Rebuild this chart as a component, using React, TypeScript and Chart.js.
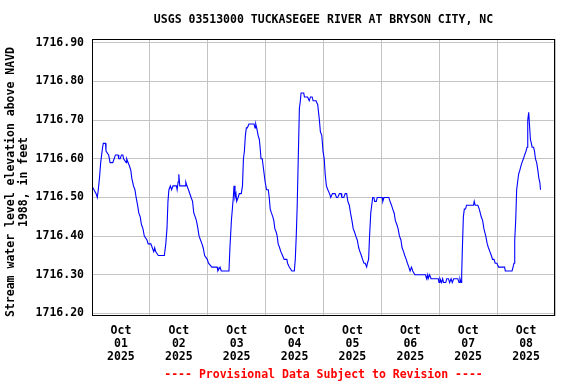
import { useEffect, useRef } from 'react';
import { Chart, registerables } from 'chart.js';

Chart.register(...registerables);

// [hours since Oct 01 2025 00:00, gage height in feet]
const readings: [number, number][] = [
  [0, 1716.53], [0.8, 1716.52], [1.7, 1716.51], [2.2, 1716.50], [2.6, 1716.52], [3.1, 1716.55],
  [3.6, 1716.59], [4.0, 1716.61], [4.4, 1716.63], [4.7, 1716.64], [5.6, 1716.64], [5.8, 1716.62],
  [6.9, 1716.61], [7.5, 1716.59], [8.6, 1716.59], [9.2, 1716.60], [9.7, 1716.61], [10.8, 1716.61],
  [11.1, 1716.60], [11.7, 1716.60], [12.2, 1716.61], [12.8, 1716.61], [13.1, 1716.60], [14.2, 1716.59],
  [14.4, 1716.60], [15.0, 1716.59], [15.6, 1716.58], [16.1, 1716.57], [16.5, 1716.55], [17.2, 1716.53],
  [17.8, 1716.52], [18.3, 1716.50], [18.9, 1716.48], [19.4, 1716.46], [20.0, 1716.45], [20.5, 1716.43],
  [21.1, 1716.42], [21.7, 1716.40], [22.8, 1716.39], [23.3, 1716.38], [24.4, 1716.38], [25.0, 1716.37],
  [25.6, 1716.36], [26.0, 1716.37], [26.4, 1716.36], [27.5, 1716.35], [30.0, 1716.35], [30.6, 1716.38],
  [31.1, 1716.42], [31.5, 1716.49], [31.9, 1716.52], [32.5, 1716.53], [33.0, 1716.52], [33.6, 1716.53],
  [35.0, 1716.53], [35.3, 1716.52], [35.7, 1716.54], [36.0, 1716.56], [36.4, 1716.53], [38.6, 1716.53],
  [38.9, 1716.54], [39.4, 1716.53], [40.0, 1716.52], [41.1, 1716.50], [41.7, 1716.49], [42.2, 1716.46],
  [42.8, 1716.45], [43.3, 1716.44], [43.9, 1716.42], [44.4, 1716.40], [45.0, 1716.39], [45.6, 1716.38],
  [46.1, 1716.37], [46.7, 1716.35], [47.8, 1716.34], [48.3, 1716.33], [49.7, 1716.32], [51.9, 1716.32],
  [52.2, 1716.31], [53.1, 1716.32], [53.6, 1716.31], [56.8, 1716.31], [57.2, 1716.37], [57.8, 1716.44],
  [58.2, 1716.47], [58.6, 1716.50], [58.9, 1716.53], [59.3, 1716.50], [59.7, 1716.51], [60.0, 1716.49],
  [60.6, 1716.50], [61.1, 1716.51], [61.9, 1716.51], [62.4, 1716.53], [62.8, 1716.60], [63.2, 1716.62],
  [63.6, 1716.66], [64.0, 1716.68], [64.4, 1716.68], [65.1, 1716.69], [67.2, 1716.69], [67.6, 1716.68],
  [67.9, 1716.69], [68.3, 1716.68], [68.9, 1716.66], [69.4, 1716.65], [69.7, 1716.63], [70.1, 1716.60],
  [70.6, 1716.60], [71.0, 1716.58], [71.4, 1716.56], [71.8, 1716.54], [72.4, 1716.52], [73.1, 1716.52],
  [73.5, 1716.50], [73.9, 1716.47], [74.4, 1716.46], [75.0, 1716.45], [75.4, 1716.44], [75.8, 1716.42],
  [76.4, 1716.41], [76.8, 1716.40], [77.2, 1716.38], [77.8, 1716.37], [78.3, 1716.36], [79.0, 1716.35],
  [79.7, 1716.34], [80.8, 1716.34], [81.1, 1716.33], [81.8, 1716.32], [82.9, 1716.31], [83.9, 1716.31],
  [84.3, 1716.34], [84.7, 1716.40], [85.1, 1716.48], [85.6, 1716.62], [86.0, 1716.73], [86.4, 1716.75],
  [86.7, 1716.77], [87.8, 1716.77], [88.1, 1716.76], [89.4, 1716.76], [90.1, 1716.75], [90.6, 1716.76],
  [91.3, 1716.76], [91.7, 1716.75], [92.9, 1716.75], [93.6, 1716.74], [94.3, 1716.70], [94.7, 1716.67],
  [95.3, 1716.66], [95.8, 1716.62], [96.3, 1716.60], [96.7, 1716.56], [97.2, 1716.53], [97.8, 1716.52],
  [98.5, 1716.51], [99.0, 1716.50], [99.7, 1716.51], [100.8, 1716.51], [101.4, 1716.50], [101.9, 1716.50],
  [102.6, 1716.51], [103.3, 1716.51], [103.6, 1716.50], [104.4, 1716.50], [105.0, 1716.51], [105.6, 1716.51],
  [106.1, 1716.49], [106.7, 1716.48], [107.2, 1716.46], [107.8, 1716.44], [108.3, 1716.42], [108.9, 1716.41],
  [109.4, 1716.40], [110.0, 1716.39], [110.6, 1716.37], [111.1, 1716.36], [111.7, 1716.35], [112.2, 1716.34],
  [112.8, 1716.33], [113.3, 1716.33], [113.9, 1716.32], [114.2, 1716.33], [114.7, 1716.34], [115.1, 1716.40],
  [115.6, 1716.46], [116.0, 1716.48], [116.4, 1716.50], [116.9, 1716.50], [117.2, 1716.49], [117.9, 1716.49],
  [118.3, 1716.50], [120.3, 1716.50], [120.6, 1716.49], [121.1, 1716.50], [123.1, 1716.50], [123.6, 1716.49],
  [124.2, 1716.48], [124.7, 1716.47], [125.3, 1716.46], [125.8, 1716.44], [126.4, 1716.43], [126.9, 1716.42],
  [127.5, 1716.40], [128.1, 1716.39], [128.6, 1716.37], [129.2, 1716.36], [129.7, 1716.35], [130.3, 1716.34],
  [130.8, 1716.33], [131.4, 1716.32], [131.9, 1716.31], [132.5, 1716.32], [133.0, 1716.31], [133.9, 1716.30],
  [138.3, 1716.30], [138.75, 1716.29], [139.2, 1716.30], [139.4, 1716.29], [140.0, 1716.30], [140.6, 1716.29],
  [143.6, 1716.29], [143.9, 1716.28], [144.3, 1716.29], [145.0, 1716.28], [145.4, 1716.29], [145.8, 1716.28],
  [146.7, 1716.28], [147.1, 1716.29], [147.8, 1716.29], [148.3, 1716.28], [148.9, 1716.29], [149.4, 1716.28],
  [150.0, 1716.29], [151.7, 1716.29], [152.2, 1716.28], [152.6, 1716.29], [153.1, 1716.28], [153.3, 1716.30],
  [153.6, 1716.37], [154.0, 1716.45], [154.4, 1716.47], [154.9, 1716.47], [155.3, 1716.48], [158.2, 1716.48],
  [158.5, 1716.49], [158.9, 1716.48], [160.0, 1716.48], [160.6, 1716.47], [161.0, 1716.46], [161.4, 1716.45],
  [162.0, 1716.44], [162.5, 1716.42], [162.9, 1716.41], [163.3, 1716.40], [163.9, 1716.38], [164.4, 1716.37],
  [165.0, 1716.36], [165.6, 1716.35], [166.1, 1716.34], [166.7, 1716.34], [167.2, 1716.33], [167.9, 1716.33],
  [168.6, 1716.32], [171.1, 1716.32], [171.4, 1716.31], [174.2, 1716.31], [174.6, 1716.32], [175.0, 1716.33],
  [175.3, 1716.39], [175.7, 1716.44], [176.1, 1716.52], [176.5, 1716.54], [176.9, 1716.56], [177.4, 1716.57],
  [177.8, 1716.58], [178.3, 1716.59], [178.9, 1716.60], [179.4, 1716.61], [180.0, 1716.62], [180.4, 1716.63],
  [180.7, 1716.70], [181.1, 1716.72], [181.4, 1716.69], [181.8, 1716.65], [182.2, 1716.64], [182.5, 1716.63],
  [183.1, 1716.63], [183.5, 1716.62], [183.9, 1716.60], [184.4, 1716.59], [184.9, 1716.57], [185.3, 1716.55],
  [185.7, 1716.54], [186.0, 1716.52],
];

const yTickValues = [1716.2, 1716.3, 1716.4, 1716.5, 1716.6, 1716.7, 1716.8, 1716.9];
const xTickHours = [0, 12, 24, 36, 48, 60, 72, 84, 96, 108, 120, 132, 144, 156, 168, 180, 192];
const dayLabels = ['01', '02', '03', '04', '05', '06', '07', '08'];
const monthLabel = 'Oct';
const yearLabel = '2025';
const titleText = 'USGS 03513000 TUCKASEGEE RIVER AT BRYSON CITY, NC';
const yTitleLines = ['Stream water level elevation above NAVD', '1988, in feet'];
const footerText = '---- Provisional Data Subject to Revision ----';

const X_MIN = 0;
const X_MAX = 192;
const Y_MIN = 1716.1935;
const Y_MAX = 1716.9098;

const FAMILY = '"DejaVu Sans Mono", "Liberation Mono", monospace';
const FONT_SIZE = 11.5;
const FONT = `bold ${FONT_SIZE}px ${FAMILY}`;
const GRID = '#c4c4c4';

const decorPlugin = {
  id: 'decor',
  afterDraw(chart: any) {
    const { ctx, chartArea: a } = chart;
    ctx.save();
    ctx.strokeStyle = '#000';
    ctx.lineWidth = 1;
    ctx.strokeRect(a.left + 0.5, a.top + 0.5, a.right - a.left - 1, a.bottom - a.top - 1);
    ctx.font = FONT;
    ctx.textAlign = 'center';
    ctx.textBaseline = 'middle';
    const cx = (a.left + a.right) / 2;
    ctx.fillStyle = '#000';
    ctx.fillText(titleText, cx, 20.5);
    ctx.fillStyle = '#ff0000';
    ctx.fillText(footerText, cx, 375.5);
    ctx.fillStyle = '#000';
    ctx.translate(0, 182);
    ctx.rotate(-Math.PI / 2);
    ctx.fillText(yTitleLines[0], 0, 11.5);
    ctx.fillText(yTitleLines[1], 0, 24.5);
    ctx.restore();
  },
};

export default function App() {
  const ref = useRef<HTMLCanvasElement | null>(null);

  useEffect(() => {
    if (!ref.current) return;
    const chart = new Chart(ref.current, {
      type: 'line',
      data: {
        datasets: [
          {
            data: readings.map(([h, v]) => ({ x: h, y: v })),
            borderColor: '#0000ff',
            borderWidth: 1.1,
            pointRadius: 0,
            tension: 0,
            fill: false,
          },
        ],
      },
      options: {
        animation: false,
        responsive: false,
        devicePixelRatio: 1,
        layout: { padding: { left: 0, top: 39, right: 21, bottom: 0 } },
        plugins: {
          legend: { display: false },
          tooltip: { enabled: false },
          title: { display: false },
        },
        scales: {
          x: {
            type: 'linear',
            min: X_MIN,
            max: X_MAX,
            afterBuildTicks: (scale: any) => {
              scale.ticks = xTickHours.map((v) => ({ value: v }));
            },
            afterFit: (scale: any) => {
              scale.height = 68;
            },
            grid: {
              drawTicks: false,
              color: (c: any) => (c.tick && c.tick.value % 24 === 0 ? GRID : 'rgba(0,0,0,0)'),
              lineWidth: 1,
            },
            border: { display: false },
            ticks: {
              autoSkip: false,
              maxRotation: 0,
              minRotation: 0,
              padding: 9,
              color: '#000',
              font: { family: FAMILY, size: FONT_SIZE, weight: 'bold', lineHeight: 13 / FONT_SIZE },
              callback: (value: any) => {
                const i = (Number(value) - 12) / 24;
                if (Number.isInteger(i) && dayLabels[i]) return [monthLabel, dayLabels[i], yearLabel];
                return '';
              },
            },
          },
          y: {
            type: 'linear',
            min: Y_MIN,
            max: Y_MAX,
            afterBuildTicks: (scale: any) => {
              scale.ticks = yTickValues.map((v) => ({ value: v }));
            },
            afterFit: (scale: any) => {
              scale.width = 92;
            },
            grid: { drawTicks: false, color: GRID, lineWidth: 1 },
            border: { display: false },
            ticks: {
              padding: 8,
              color: '#000',
              font: { family: FAMILY, size: FONT_SIZE, weight: 'bold' },
              callback: (value: any) => Number(value).toFixed(2),
            },
          },
        },
      },
      plugins: [decorPlugin],
    } as any);
    return () => chart.destroy();
  }, []);

  return (
    <div style={{ position: 'fixed', left: 0, top: 0, width: 576, height: 384, background: '#fff' }}>
      <canvas ref={ref} width={576} height={384} style={{ display: 'block' }} />
    </div>
  );
}
